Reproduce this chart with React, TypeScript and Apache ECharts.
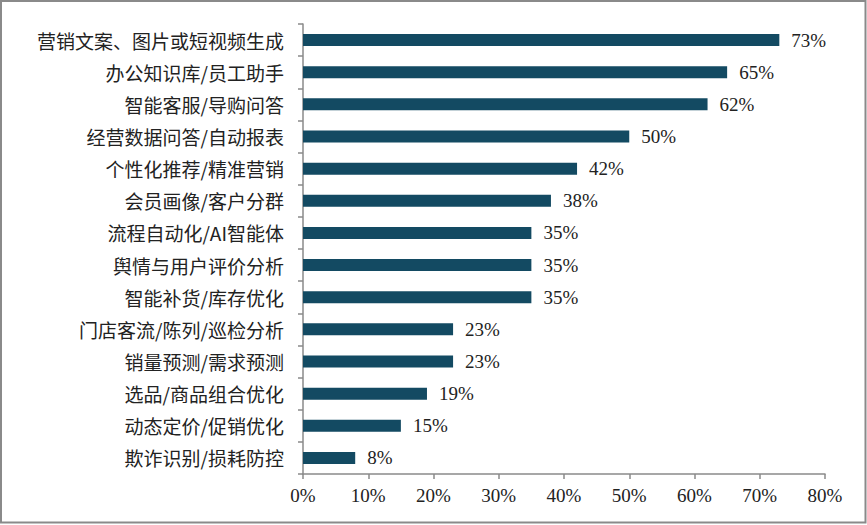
import React, { useEffect, useRef } from 'react';
import * as echarts from 'echarts';

const categories = [
    '营销文案、图片或短视频生成',
    '办公知识库/员工助手',
    '智能客服/导购问答',
    '经营数据问答/自动报表',
    '个性化推荐/精准营销',
    '会员画像/客户分群',
    '流程自动化/AI智能体',
    '舆情与用户评价分析',
    '智能补货/库存优化',
    '门店客流/陈列/巡检分析',
    '销量预测/需求预测',
    '选品/商品组合优化',
    '动态定价/促销优化',
    '欺诈识别/损耗防控',
];

const shares = [73, 65, 62, 50, 42, 38, 35, 35, 35, 23, 23, 19, 15, 8];

const xTicks = { min: 0, max: 80, step: 10 };

const serif = '"Liberation Serif", "Noto Sans CJK SC", serif';

export default function App() {
    const chartRef = useRef<HTMLDivElement | null>(null);

    useEffect(() => {
        if (!chartRef.current) return;
        const chart = echarts.init(chartRef.current, undefined, { renderer: 'svg' });

        const option = {
            animation: false,
            graphic: [
                {
                    type: 'rect',
                    shape: { x: 1, y: 1, width: 864.5, height: 521.5 },
                    style: { fill: 'none', stroke: '#8a8a8a', lineWidth: 2 },
                },
            ],
            grid: { left: 303, right: 42, top: 24, bottom: 51 },
            xAxis: {
                type: 'value',
                min: xTicks.min,
                max: xTicks.max,
                interval: xTicks.step,
                axisLine: { show: true, lineStyle: { color: '#8a8a8a', width: 1.5 } },
                axisTick: { show: true, length: 5, lineStyle: { color: '#8a8a8a', width: 1.5 } },
                splitLine: { show: false },
                axisLabel: {
                    formatter: '{value}%',
                    color: '#222',
                    fontFamily: serif,
                    fontSize: 19,
                    margin: 12,
                },
            },
            yAxis: {
                type: 'category',
                inverse: true,
                data: categories,
                axisLine: { show: true, lineStyle: { color: '#8a8a8a', width: 1.5 } },
                axisTick: { show: true, length: 5, lineStyle: { color: '#8a8a8a', width: 1.5 } },
                axisLabel: {
                    color: '#222',
                    fontFamily: '"Noto Sans CJK SC", sans-serif',
                    fontSize: 19,
                    margin: 19,
                },
            },
            series: [
                {
                    type: 'bar',
                    data: shares,
                    barWidth: 12,
                    itemStyle: { color: '#134a62' },
                    label: {
                        show: true,
                        position: 'right',
                        distance: 12,
                        formatter: '{c}%',
                        color: '#222',
                        fontFamily: serif,
                        fontSize: 19,
                    },
                },
            ],
        };

        chart.setOption(option);
        return () => {
            chart.dispose();
        };
    }, []);

    return (
        <div
            ref={chartRef}
            style={{ position: 'fixed', left: 0, top: 0, width: '867px', height: '525px', background: '#fff' }}
        />
    );
}
